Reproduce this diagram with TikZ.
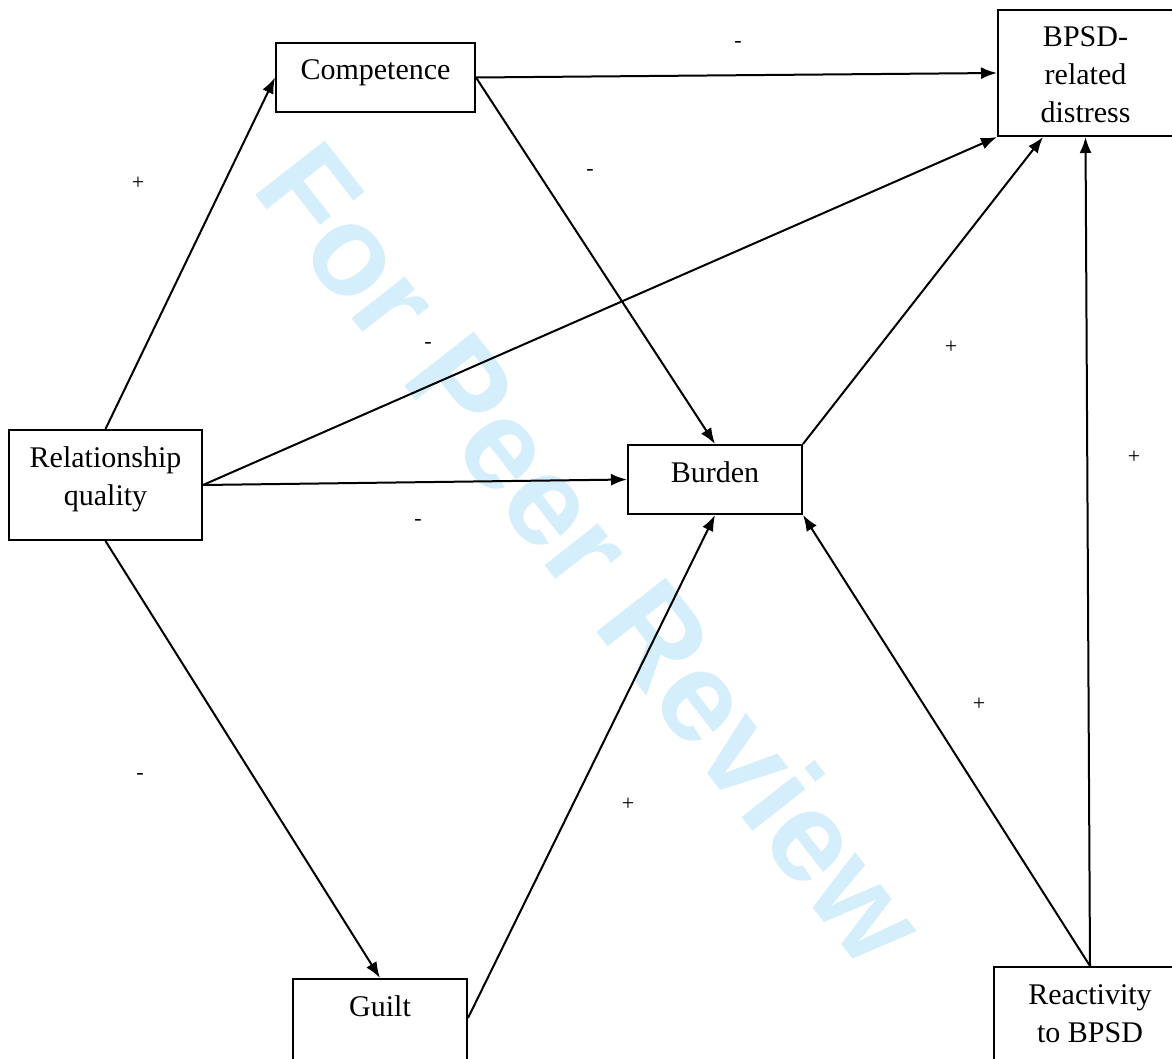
\documentclass[tikz,border=0pt]{standalone}
\usepackage{fontspec}
\setmainfont{Liberation Serif}
\newfontfamily\wmfont{Liberation Sans}
\usetikzlibrary{arrows.meta,calc}
\tikzset{>={Latex[length=8pt,width=6pt]}}
\definecolor{wmblue}{RGB}{212,238,251}
\tikzstyle{block}=[rectangle,draw=black,line width=1pt,anchor=north west,inner sep=0pt,align=center,text height=18.5pt,font=\fontsize{15}{19}\selectfont]
\tikzstyle{sign}=[inner sep=0pt,font=\fontsize{11}{13}\selectfont]
\tikzstyle{link}=[->,line width=1pt]
\tikzstyle{wmark}=[inner sep=0pt,text=wmblue,rotate=-52,font=\wmfont\bfseries\fontsize{64}{70}\selectfont]

\begin{document}
\begin{tikzpicture}[x=0.5pt,y=-0.5pt]
\clip (0,0) rectangle (1172,1059);

% watermark behind everything
\node[wmark] (wm) at (593,553) {For Peer Review};

\node[block,minimum width=99.5pt,text depth=16pt] (comp) at (275,42) {Competence};
\node[block,minimum width=87.5pt,text height=56.5pt,text depth=6.5pt] (bpsd) at (997,9) {BPSD-\\related\\distress};
\node[block,minimum width=96.5pt,text height=37.5pt,text depth=17.5pt] (rel) at (8,429) {Relationship\\quality};
\node[block,minimum width=87pt,text depth=16pt] (burden) at (627,444) {Burden};
\node[block,minimum width=87pt,text depth=42.5pt] (guilt) at (292,978) {Guilt};
\node[block,minimum width=96pt,text height=37.5pt,text depth=22.5pt] (react) at (993,966) {Reactivity\\to BPSD};

\draw[link] (rel.north) -- (comp.west);
\draw[link] (comp.east) -- (bpsd.west);
\draw[link] (comp.east) -- (burden.north);
\draw[link] (rel.east) -- (bpsd.south west);
\draw[link] (rel.east) -- (burden.west);
\draw[link] (rel.south) -- (guilt.north);
\draw[link] ($(guilt.north east)+(0,40)$) -- (burden.south);
\draw[link] (burden.north east) -- ($(bpsd.south west)+(46,0)$);
\draw[link] (react.north) -- (burden.south east);
\draw[link] (react.north) -- (bpsd.south);

% signs of the paths
\foreach \x/\y/\s [count=\k] in {738/45/-, 138/183/+, 590/172/-, 428/345/-, 951/347/+, 1134/457/+, 418/522/-, 140/776/-, 628/804/+, 979/704/+} {
	\node[sign] (sign\k) at (\x,\y) {\s};
};

\end{tikzpicture}
\end{document}
